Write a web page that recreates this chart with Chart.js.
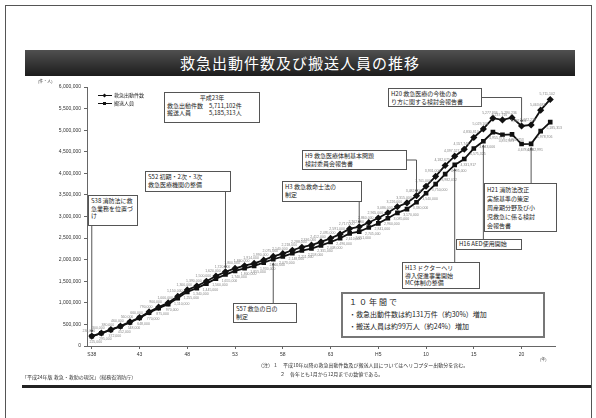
<!DOCTYPE html>
<html lang="ja">
<head>
<meta charset="utf-8">
<script src="https://cdn.jsdelivr.net/npm/chart.js@4.4.1/dist/chart.umd.min.js"></script>
<style>
  html, body { margin: 0; padding: 0; background: #fff; }
  body { width: 596px; height: 418px; position: relative; overflow: hidden;
         font-family: "Noto Sans CJK JP", "Noto Sans", sans-serif; color: #222; }
  #frame { position: absolute; left: 5px; top: 5px; width: 585px; height: 440px; border: 1px solid #555; }
  #title { position: absolute; left: 25px; top: 50px; width: 550px; height: 26px;
           background: linear-gradient(#505050, #1c1c1c); color: #fff; font-size: 15px;
           line-height: 26px; text-align: center; letter-spacing: 1px; }
  #chart { position: absolute; left: 0; top: 0; }
  .box { position: absolute; border: 1px solid #555; background: #fff; font-size: 6px;
         line-height: 7.5px; padding: 1px 2px; white-space: nowrap; box-sizing: border-box; }
  .small { position: absolute; font-size: 5px; line-height: 6px; white-space: nowrap; color: #333; }
  #legend { position: absolute; left: 98px; top: 91px; font-size: 5px; line-height: 8px; }
  #legend .ln { display: inline-block; position: relative; width: 14px; height: 1px;
                background: #111; vertical-align: middle; margin-right: 2px; }
  #legend .ln i { position: absolute; left: 5px; top: -1.5px; width: 3px; height: 3px; background: #111; }
  #legend .ln i.d { transform: rotate(45deg); }
  #summary { left: 164px; top: 92px; width: 96px; height: 31px; border: 1.5px solid #555; }
  #summary .c { text-align: center; }
  #summary span { display: inline-block; width: 42px; }
  #ten { left: 341px; top: 292px; width: 204px; height: 46px; border: 2px solid #777;
         font-size: 7px; line-height: 12px; padding: 2px 6px; }
  #ten .h { font-size: 8px; letter-spacing: 2px; }
  #rule { position: absolute; left: 22px; top: 385px; width: 569px; height: 3px; background: #222; }
</style>
</head>
<body>
<div id="frame"></div>
<div id="title">救急出動件数及び搬送人員の推移</div>
<canvas id="chart" width="596" height="418"></canvas>

<div class="small" style="left:38px; top:78px; font-size:4px;">(件・人)</div>
<div id="legend">
  <div><span class="ln"><i class="d"></i></span>救急出動件数</div>
  <div><span class="ln"><i></i></span>搬送人員</div>
</div>

<div class="box" id="summary">
  <div class="c">平成23年</div>
  <div><span>救急出動件数</span>5,711,102件</div>
  <div><span>搬送人員</span>5,185,313人</div>
</div>

<div class="box" id="n-s38" style="left:88px; top:195px; width:50px; height:31px;">S38 消防法に救<br>急業務を位置づ<br>け</div>
<div class="box" id="n-s52" style="left:145px; top:171px; width:86px; height:21px;">S52 初期・2次・3次<br>救急医療機関の整備</div>
<div class="box" id="n-s57" style="left:233px; top:303px; width:64px; height:20px;">S57 救急の日の<br>制定</div>
<div class="box" id="n-h3" style="left:282px; top:181px; width:80px; height:21px;">H3 救急救命士法の<br>制定</div>
<div class="box" id="n-h9" style="left:302px; top:150px; width:105px; height:20px;">H9 救急医療体制基本問題<br>検討委員会報告書</div>
<div class="box" id="n-h13" style="left:402px; top:262px; width:78px; height:27px;">H13 ドクターヘリ<br>導入促進事業開始<br>MC体制の整備</div>
<div class="box" id="n-h16" style="left:456px; top:239px; width:66px; height:11px; line-height:8px; padding-top:0;">H16 AED使用開始</div>
<div class="box" id="n-h20" style="left:388px; top:88px; width:94px; height:19px;">H20 救急医療の今後のあ<br>り方に関する検討会報告書</div>
<div class="box" id="n-h21" style="left:484px; top:183px; width:73px; height:49px; line-height:9px;">H21 消防法改正<br>実施基準の策定<br>周産期分野及び小<br>児救急に係る検討<br>会報告書</div>

<div class="box" id="ten">
  <div class="h">１０年間で</div>
  <div>・救急出動件数は約131万件（約30%）増加</div>
  <div>・搬送人員は約99万人（約24%）増加</div>
</div>

<div class="small" style="left:540px; top:356px; font-size:4px;">(年)</div>
<div class="small" style="left:258px; top:362px;">（注）１　平成10年以降の救急出動件数及び搬送人員についてはヘリコプター出動分を含む。</div>
<div class="small" style="left:280px; top:371px;">２　各年とも1月から12月までの数値である。</div>
<div class="small" style="left:22px; top:374px;">「平成24年版 救急・救助の現況」（総務省消防庁）</div>
<div id="rule"></div>

<script>
// years S38 (1963) .. H23 (2011)
const years = [
  'S38','S39','S40','S41','S42','S43','S44','S45','S46','S47','S48','S49','S50',
  'S51','S52','S53','S54','S55','S56','S57','S58','S59','S60','S61','S62','S63',
  'H1','H2','H3','H4','H5','H6','H7','H8','H9','H10','H11','H12','H13','H14',
  'H15','H16','H17','H18','H19','H20','H21','H22','H23'
];
const tickLabels = ['S38','43','48','53','58','63','H5','10','15','20'];

// 救急出動件数
const dispatches = [
  230000, 300000, 380000, 460000, 560000, 660000, 790000, 900000, 1000000, 1150000,
  1300000, 1390000, 1500000, 1620000, 1720000, 1800000, 1860000, 1914000, 1990000, 2075000,
  2140000, 2218000, 2288000, 2336000, 2412000, 2495000, 2591000, 2717000, 2762000, 2860000,
  2965000, 3086000, 3226000, 3315000, 3482000, 3701000, 3931000, 4182675, 4397527, 4557743,
  4830813, 5029108, 5277936, 5237716, 5290236, 5097094, 5122226, 5463682, 5711102
];
// 搬送人員
const transported = [
  225000, 295000, 372000, 452000, 548000, 648000, 770000, 875000, 970000, 1110000,
  1255000, 1340000, 1445000, 1560000, 1655000, 1740000, 1800000, 1855000, 1930000, 2010000,
  2073000, 2148000, 2211000, 2258000, 2331000, 2408000, 2496000, 2610000, 2651000, 2745000,
  2841000, 2960000, 3085000, 3170000, 3330000, 3540000, 3750000, 3982032, 4195000, 4331917,
  4575325, 4743006, 4955976, 4892593, 4902753, 4678636, 4682991, 4978706, 5185313
];

// annotation boxes -> which point they point at
const notes = [
  { id: 'n-s38', idx: 0,  ds: 0, dir: 'down' },
  { id: 'n-s52', idx: 14, ds: 0, dir: 'down' },
  { id: 'n-s57', idx: 19, ds: 1, dir: 'up' },
  { id: 'n-h3',  idx: 28, ds: 0, dir: 'down' },
  { id: 'n-h9',  idx: 34, ds: 0, dir: 'elbow' },
  { id: 'n-h13', idx: 38, ds: 1, dir: 'up' },
  { id: 'n-h16', idx: 41, ds: 1, dir: 'up' },
  { id: 'n-h20', idx: 45, ds: 0, dir: 'elbow' },
  { id: 'n-h21', idx: 46, ds: 1, dir: 'up' }
];

function arrowHead(ctx, x, y, dir) {
  const s = 3;
  ctx.beginPath();
  ctx.moveTo(x, y);
  if (dir === 'down') { ctx.lineTo(x - s / 2, y - s); ctx.lineTo(x + s / 2, y - s); }
  else { ctx.lineTo(x - s / 2, y + s); ctx.lineTo(x + s / 2, y + s); }
  ctx.closePath();
  ctx.fill();
}

const notePlugin = {
  id: 'notes',
  afterDatasetsDraw(chart) {
    const ctx = chart.ctx;
    ctx.save();
    // tiny value labels next to every point
    ctx.font = '3.5px sans-serif';
    ctx.fillStyle = '#888';
    ctx.textAlign = 'center';
    chart.data.datasets.forEach((ds, di) => {
      chart.getDatasetMeta(di).data.forEach((pt, i) => {
        const txt = ds.data[i].toLocaleString('en-US');
        if (di === 0) ctx.fillText(txt, pt.x - 3, pt.y - 4);
        else ctx.fillText(txt, pt.x + 4, pt.y + 7);
      });
    });
    // connector lines
    ctx.strokeStyle = '#555';
    ctx.fillStyle = '#555';
    ctx.lineWidth = 1;
    notes.forEach(n => {
      const el = document.getElementById(n.id);
      const pt = chart.getDatasetMeta(n.ds).data[n.idx];
      const bx = el.offsetLeft, by = el.offsetTop, bw = el.offsetWidth, bh = el.offsetHeight;
      ctx.beginPath();
      if (n.dir === 'down') {
        ctx.moveTo(pt.x, by + bh);
        ctx.lineTo(pt.x, pt.y - 4);
        ctx.stroke();
        arrowHead(ctx, pt.x, pt.y - 3, 'down');
      } else if (n.dir === 'up') {
        ctx.moveTo(pt.x, by);
        ctx.lineTo(pt.x, pt.y + 4);
        ctx.stroke();
        arrowHead(ctx, pt.x, pt.y + 3, 'up');
      } else {
        ctx.moveTo(bx + bw, by + bh / 2);
        ctx.lineTo(pt.x, by + bh / 2);
        ctx.lineTo(pt.x, pt.y - 4);
        ctx.stroke();
        arrowHead(ctx, pt.x, pt.y - 3, 'down');
      }
    });
    ctx.restore();
  }
};

new Chart(document.getElementById('chart'), {
  type: 'line',
  data: {
    labels: years,
    datasets: [
      {
        label: '救急出動件数',
        data: dispatches,
        borderColor: '#111',
        backgroundColor: '#111',
        borderWidth: 1.8,
        pointStyle: 'rectRot',
        pointRadius: 2.3,
        tension: 0
      },
      {
        label: '搬送人員',
        data: transported,
        borderColor: '#111',
        backgroundColor: '#111',
        borderWidth: 1.8,
        pointStyle: 'rect',
        pointRadius: 2,
        tension: 0
      }
    ]
  },
  options: {
    responsive: false,
    animation: false,
    devicePixelRatio: 1,
    layout: { padding: { left: 57, right: 41, top: 87, bottom: 52 } },
    plugins: { legend: { display: false }, tooltip: { enabled: false } },
    scales: {
      x: {
        offset: true,
        afterFit: s => { s.height = 20; },
        border: { color: '#666' },
        grid: {
          drawOnChartArea: false,
          tickLength: 3,
          color: c => (c.index % 5 === 0 ? '#666' : 'rgba(0,0,0,0)')
        },
        ticks: {
          autoSkip: false,
          maxRotation: 0,
          color: '#333',
          font: { size: 5 },
          callback: (v, i) => (i % 5 === 0 ? tickLabels[i / 5] : '')
        }
      },
      y: {
        min: 0,
        max: 6000000,
        afterFit: s => { s.width = 30; },
        border: { color: '#666' },
        grid: { drawOnChartArea: false, tickLength: 3, color: '#666' },
        ticks: {
          stepSize: 500000,
          color: '#333',
          font: { size: 5 },
          callback: v => v.toLocaleString('en-US')
        }
      }
    }
  },
  plugins: [notePlugin]
});
</script>
</body>
</html>
